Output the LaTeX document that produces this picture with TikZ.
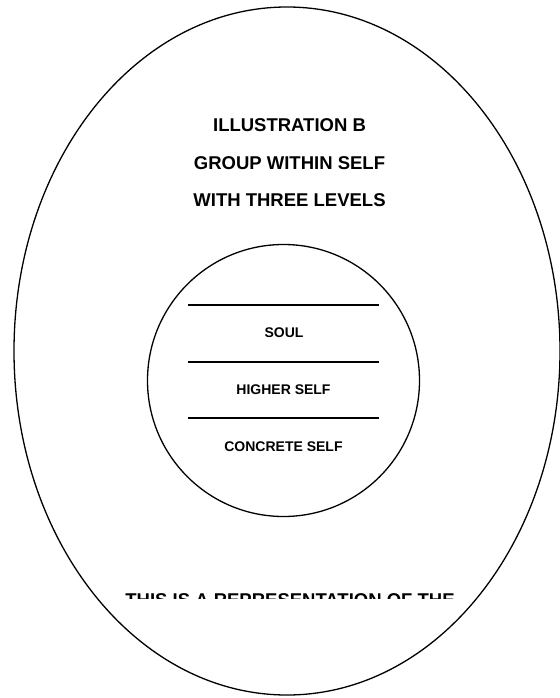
\documentclass[tikz,border=0pt]{standalone}
\usepackage{fontspec}
\setmainfont{Liberation Sans}
\usetikzlibrary{positioning, calc}

\begin{document}
\begin{tikzpicture}[x=1pt, y=-1pt]
% Define styles
\tikzstyle{heading} = [inner sep=0pt, font=\fontsize{18.5}{20}\selectfont\bfseries]
\tikzstyle{level} = [inner sep=0pt, font=\fontsize{14}{16}\selectfont\bfseries]
\tikzstyle{outline} = [line width=1.3pt]
\tikzstyle{divider} = [line width=2pt]

\useasboundingbox (0,0) rectangle (559,698);

% Outer self and inner group
\draw [outline] (287,351) ellipse [x radius=273, y radius=344];
\node (group) [outline, draw, circle, minimum size=272pt, inner sep=0pt] at (283.5,380.5) {};

% Title
\node (title) [heading] at (289.5,125) {ILLUSTRATION B};
\node (sub1) [heading] at (289.5,163) {GROUP WITHIN SELF};
\node (sub2) [heading] at (289.5,200) {WITH THREE LEVELS};

% Three levels
\coordinate (l1) at (188,305);
\coordinate (r1) at (379,305);
\coordinate (l2) at (188,362);
\coordinate (r2) at (379,362);
\coordinate (l3) at (188,418);
\coordinate (r3) at (379,418);
\draw [divider] (l1) -- (r1);
\draw [divider] (l2) -- (r2);
\draw [divider] (l3) -- (r3);

\node (soul) [level] at (284,333) {SOUL};
\node (higher) [level] at (283.5,390) {HIGHER SELF};
\node (concrete) [level] at (283.5,447) {CONCRETE SELF};

% Cut-off caption
\begin{scope}
\clip (0,0) rectangle (559,598);
\node (caption) [heading, anchor=north] at (290,593) {THIS IS A REPRESENTATION OF THE};
\end{scope}

\end{tikzpicture}
\end{document}
